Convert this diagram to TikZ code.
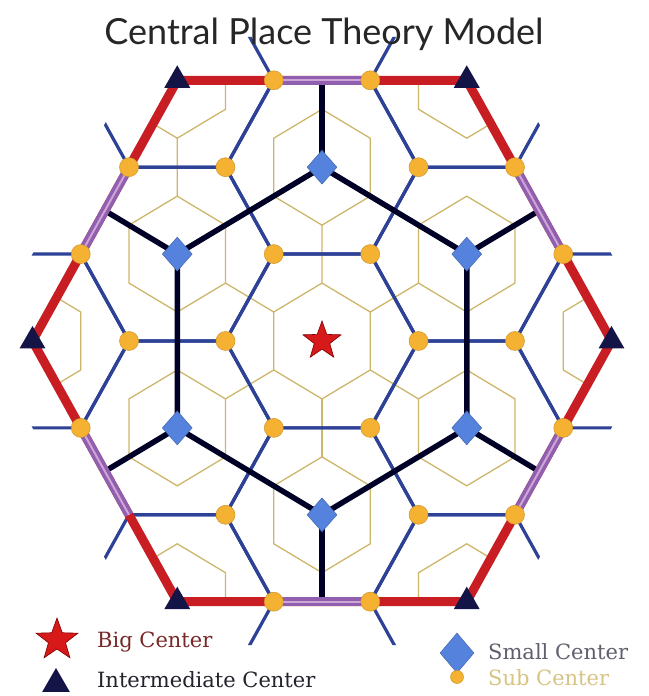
\documentclass[tikz,border=0pt]{standalone}
\usepackage{fontspec}
\setmainfont{DejaVu Serif}
\newfontfamily\titlefont{Lato}
\usepackage{tikz}
\usetikzlibrary{shapes.geometric, backgrounds}
\definecolor{bigred}{RGB}{215,25,25}
\definecolor{edgered}{RGB}{200,30,35}
\definecolor{edgepurple}{RGB}{145,95,175}
\definecolor{stripepink}{RGB}{205,165,215}
\definecolor{netblue}{RGB}{45,65,150}
\definecolor{marketgold}{RGB}{205,182,105}
\definecolor{subgold}{RGB}{245,178,50}
\definecolor{smallblue}{RGB}{85,130,220}
\definecolor{midnavy}{RGB}{20,20,70}
\definecolor{keyred}{RGB}{120,40,40}
\definecolor{keydark}{RGB}{35,35,45}
\definecolor{keygray}{RGB}{95,95,110}
\definecolor{keytan}{RGB}{215,195,130}
\tikzset{
  bigmark/.style={star, star points=5, star point ratio=2.45, draw=red!50!black,
    fill=bigred, inner sep=0pt, minimum size=40pt, line width=0.6pt},
  midmark/.style={regular polygon, regular polygon sides=3, fill=midnavy,
    inner sep=0pt, minimum size=30pt},
  smallmark/.style={diamond, fill=smallblue, draw=smallblue!80!black, line width=0.5pt,
    inner sep=0pt, minimum width=30pt, minimum height=34pt},
  submark/.style={circle, fill=subgold, draw=subgold!85!black, line width=0.5pt,
    inner sep=0pt, minimum size=19pt},
  keytext/.style={anchor=base west, inner sep=0pt, font=\fontsize{21}{24}\selectfont},
}

\begin{document}
\begin{tikzpicture}[x=1pt, y=1pt,
  goldline/.style={marketgold, line width=1.3pt},
  blueline/.style={netblue, line width=3.2pt},
  blackline/.style={black!85!blue, line width=5.5pt, line join=round},
  redline/.style={edgered, line width=9pt},
  purpleline/.style={edgepurple, line width=9pt},
  stripe/.style={stripepink, line width=2pt}]
  \useasboundingbox (0,0) rectangle (648,696);
  \begin{scope}[on background layer]
    \fill[white] (0,0) rectangle (648,696);
  \end{scope}

  \node[font=\titlefont\fontsize{36}{40}\selectfont, text=black!85, anchor=base] (title)
    at (324,651) {Central Place Theory Model};

  \begin{scope}[shift={(322,355)}, x={(96.5pt,0pt)}, y={(48.25pt,86.9pt)}]
    \node[bigmark] (big) at (0,0) {};
    \foreach \n/\a/\b in {1/1/1, 2/-1/2, 3/-2/1, 4/-1/-1, 5/1/-2, 6/2/-1} {
      \node[smallmark] (s\n) at (\a,\b) {};
      \coordinate (m\n) at (1.5*\a,1.5*\b);
    }
    \foreach \n/\a/\b in {1/3/0, 2/0/3, 3/-3/3, 4/-3/0, 5/0/-3, 6/3/-3}
      \node[midmark] (t\n) at (\a,\b) {};
    \foreach \n/\a/\b in {1/1/0, 2/0/1, 3/-1/1, 4/-1/0, 5/0/-1, 6/1/-1,
                          7/2/0, 8/0/2, 9/-2/2, 10/-2/0, 11/0/-2, 12/2/-2}
      \node[submark] (d\n) at (\a,\b) {};
    \foreach \n/\a/\b in {1/2/1, 2/1/2, 3/-1/3, 4/-2/3, 5/-3/2, 6/-3/1,
                          7/-2/-1, 9/1/-3, 10/2/-3, 11/3/-2, 12/3/-1}
      \node[submark] (e\n) at (\a,\b) {};
    \coordinate (e8) at (-1,-2);

    \begin{scope}[on background layer]
      \begin{scope}
        \clip (t1.center) -- (t2.center) -- (t3.center) -- (t4.center) -- (t5.center) -- (t6.center) -- cycle;
        \foreach \a/\b in {0/0, 1/1, -1/2, -2/1, -1/-1, 1/-2, 2/-1,
                           3/0, 0/3, -3/3, -3/0, 0/-3, 3/-3}
          \draw[goldline, shift={(\a,\b)}] (1/3,1/3) -- (-1/3,2/3) -- (-2/3,1/3)
            -- (-1/3,-1/3) -- (1/3,-2/3) -- (2/3,-1/3) -- cycle;
        \foreach \a/\b in {1/1, -1/2, -2/1, -1/-1, 1/-2, 2/-1}
          \draw[goldline] (\a/3,\b/3) -- (2*\a/3,2*\b/3);
        \draw[goldline] (-8/3,7/3) -- (-7/3,5/3);
      \end{scope}
      \begin{scope}
        \clip (3.5,0) -- (0,3.5) -- (-3.5,3.5) -- (-3.5,0) -- (0,-3.5) -- (3.5,-3.5) -- cycle;
        \foreach \a/\b in {0/0, 1/1, -1/2, -2/1, -1/-1, 1/-2, 2/-1,
                           3/0, 0/3, -3/3, -3/0, 0/-3, 3/-3}
          \draw[blueline, shift={(\a,\b)}] (1,0) -- (0,1) -- (-1,1) -- (-1,0)
            -- (0,-1) -- (1,-1) -- cycle;
      \end{scope}
      \draw[blackline] (s1.center) -- (s2.center) -- (s3.center) -- (s4.center)
        -- (s5.center) -- (s6.center) -- cycle;
      \foreach \n in {1,...,6}
        \draw[blackline] (s\n.center) -- (m\n);
      \draw[redline] (t1.center) -- (t2.center) -- (t3.center) -- (t4.center)
        -- (t5.center) -- (t6.center) -- cycle;
      \foreach \p/\q in {e1/e2, e3/e4, e5/e6, e7/e8, e9/e10, e11/e12} {
        \draw[purpleline] (\p.center) -- (\q.center);
        \draw[stripe] (\p.center) -- (\q.center);
      }
    \end{scope}
  \end{scope}

  \node[bigmark, minimum size=44pt] (keybig) at (57,56) {};
  \node[keytext, text=keyred] (keybigtext) at (97,48) {Big Center};
  \node[midmark, minimum size=32pt] (keymid) at (56,12) {};
  \node[keytext, text=keydark] (keymidtext) at (97,9) {Intermediate Center};
  \node[smallmark, minimum width=34pt, minimum height=40pt] (keysmall) at (457,43) {};
  \node[keytext, text=keygray] (keysmalltext) at (488,36) {Small Center};
  \node[submark, minimum size=13pt] (keysub) at (457,19) {};
  \node[keytext, text=keytan] (keysubtext) at (488,10) {Sub Center};
\end{tikzpicture}
\end{document}
